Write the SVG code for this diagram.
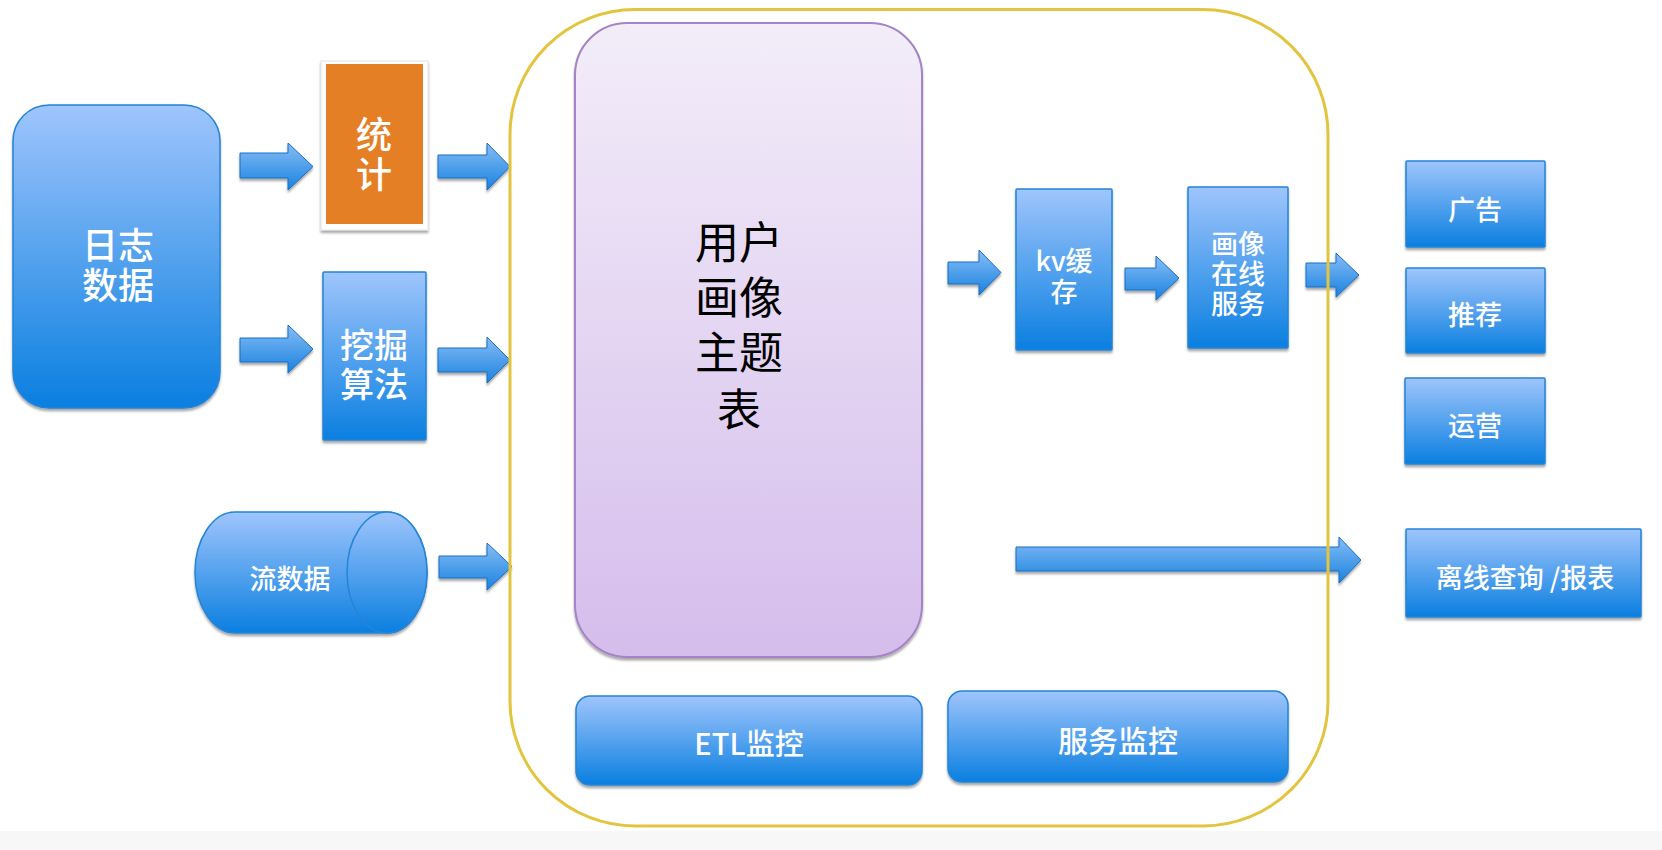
<svg xmlns="http://www.w3.org/2000/svg" width="1662" height="850" viewBox="0 0 1662 850">
<defs>
<linearGradient id="gBlue" x1="0" y1="0" x2="0" y2="1">
<stop offset="0" stop-color="#9fc5fc"/>
<stop offset="1" stop-color="#0a7fe0"/>
</linearGradient>
<linearGradient id="gArrow" x1="0" y1="0" x2="0" y2="1">
<stop offset="0" stop-color="#86bdf7"/>
<stop offset="1" stop-color="#1a82de"/>
</linearGradient>
<linearGradient id="gPurple" x1="0" y1="0" x2="0" y2="1">
<stop offset="0" stop-color="#f3edf9"/>
<stop offset="1" stop-color="#d5bdec"/>
</linearGradient>
<filter id="sh" x="-10%" y="-10%" width="120%" height="130%">
<feDropShadow dx="0" dy="2.5" stdDeviation="1.2" flood-color="#000" flood-opacity="0.35"/>
</filter>
</defs>
<style>
.box{fill:url(#gBlue);stroke:#2584d6;stroke-width:1.5;filter:url(#sh)}
.arr{fill:url(#gArrow);stroke:#1a6fc4;stroke-width:1;filter:url(#sh)}
.t{font-family:"Noto Sans CJK SC","Noto Sans",sans-serif;fill:#ffffff;text-anchor:middle;dominant-baseline:central;font-weight:500}
.tk{font-family:"Noto Sans CJK SC","Noto Sans",sans-serif;fill:#000000;text-anchor:middle;dominant-baseline:central}
</style>
<rect x="0" y="0" width="1662" height="850" fill="#ffffff"/>
<rect x="0" y="831" width="1662" height="19" fill="#f7f7f7"/>

<g id="node-profile-table">
<rect x="575" y="23" width="347" height="634" rx="52" ry="52" fill="url(#gPurple)" stroke="#a484c4" stroke-width="2" filter="url(#sh)"/>
<text class="tk" font-size="44"><tspan x="739" y="240">用户</tspan><tspan x="739" y="295">画像</tspan><tspan x="739" y="350">主题</tspan><tspan x="739" y="407">表</tspan></text>
</g>

<g id="node-log-data">
<rect class="box" x="13" y="105" width="207" height="303" rx="36" ry="36"/>
<text class="t" font-size="36"><tspan x="118" y="243">日志</tspan><tspan x="118" y="283">数据</tspan></text>
</g>

<g id="node-stats">
<rect x="321" y="61" width="107" height="169" fill="#ffffff" stroke="#e2e2e2" stroke-width="1" filter="url(#sh)"/>
<rect x="326" y="64" width="97" height="160" fill="#e57f26"/>
<text class="t" font-size="36"><tspan x="374" y="132">统</tspan><tspan x="374" y="172">计</tspan></text>
</g>

<g id="node-mining">
<rect class="box" x="323" y="272" width="103" height="168" rx="1"/>
<text class="t" font-size="34"><tspan x="374" y="343">挖掘</tspan><tspan x="374" y="382">算法</tspan></text>
</g>

<g id="node-stream">
<path class="box" d="M235 512 L387 512 A40 60.5 0 0 1 387 633 L235 633 A40 60.5 0 0 1 235 512 Z"/>
<ellipse cx="387" cy="572.5" rx="40" ry="60.5" fill="url(#gBlue)" stroke="#2584d6" stroke-width="1.5"/>
<text class="t" font-size="27" x="290" y="577">流数据</text>
</g>

<g id="node-kv">
<rect class="box" x="1016" y="189" width="96" height="161" rx="1"/>
<text class="t" font-size="27"><tspan x="1064" y="259">kv缓</tspan><tspan x="1064" y="290">存</tspan></text>
</g>

<g id="node-online">
<rect class="box" x="1188" y="187" width="100" height="161" rx="1"/>
<text class="t" font-size="27"><tspan x="1238" y="242">画像</tspan><tspan x="1238" y="272">在线</tspan><tspan x="1238" y="302">服务</tspan></text>
</g>

<g id="node-ad">
<rect class="box" x="1406" y="161" width="139" height="86" rx="1"/>
<text class="t" font-size="27" x="1475" y="208">广告</text>
</g>
<g id="node-recommend">
<rect class="box" x="1406" y="268" width="139" height="85" rx="1"/>
<text class="t" font-size="27" x="1475" y="313">推荐</text>
</g>
<g id="node-ops">
<rect class="box" x="1405" y="378" width="140" height="86" rx="1"/>
<text class="t" font-size="27" x="1475" y="424">运营</text>
</g>
<g id="node-offline">
<rect class="box" x="1406" y="529" width="235" height="88" rx="1"/>
<text class="t" font-size="27" x="1525" y="576">离线查询 /报表</text>
</g>

<g id="node-etl-monitor">
<rect class="box" x="576" y="696" width="346" height="89" rx="14" ry="14"/>
<text class="t" font-size="29" x="749" y="742">ETL监控</text>
</g>
<g id="node-service-monitor">
<rect class="box" x="948" y="691" width="340" height="91" rx="14" ry="14"/>
<text class="t" font-size="30" x="1118" y="739">服务监控</text>
</g>

<g id="connectors">
<path class="arr" d="M240 153 L288 153 L288 143 L313 166.5 L288 190 L288 178 L240 178 Z"/>
<path class="arr" d="M438 155 L487 155 L487 143 L510 166.5 L487 190 L487 178 L438 178 Z"/>
<path class="arr" d="M240 338 L288 338 L288 325 L313 349 L288 373 L288 362 L240 362 Z"/>
<path class="arr" d="M438 348 L487 348 L487 337 L510 360 L487 383 L487 372 L438 372 Z"/>
<path class="arr" d="M439 556 L487 556 L487 543 L512 566.5 L487 590 L487 578 L439 578 Z"/>
<path class="arr" d="M948 262 L979 262 L979 250 L1001 272.5 L979 295 L979 284 L948 284 Z"/>
<path class="arr" d="M1125 268 L1156 268 L1156 256 L1179 278 L1156 300 L1156 290 L1125 290 Z"/>
<path class="arr" d="M1306 263 L1336 263 L1336 253 L1359 275 L1336 297 L1336 287 L1306 287 Z"/>
<path class="arr" d="M1016 547 L1339 547 L1339 537 L1361 560 L1339 583 L1339 571 L1016 571 Z"/>
</g>

<g id="node-container">
<rect x="510" y="9.5" width="818" height="816.5" rx="125" ry="125" fill="none" stroke="#e3c43f" stroke-width="3"/>
</g>
</svg>
